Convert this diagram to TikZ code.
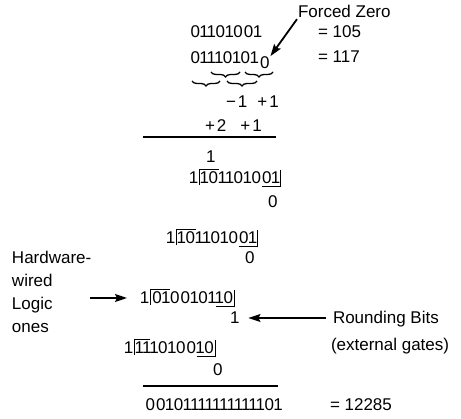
\documentclass[tikz,border=0pt]{standalone}
\usepackage{fontspec}
\setmainfont{Liberation Sans}
\usetikzlibrary{arrows.meta,decorations.pathreplacing}
\newlength\zw \setlength\zw{10.5pt}
\newlength\ow \setlength\ow{7.3pt}
\makeatletter
\def\bits#1{\bits@#1\relax}
\def\bits@#1{\ifx#1\relax\else\ifx#10\makebox[\zw]{0}\else\makebox[\ow]{1}\fi\expandafter\bits@\fi}
\makeatother
\newcommand\ovl[1]{\setbox0\hbox{#1}\rlap{\vrule height 14.5pt depth -13.5pt width \wd0}\box0}
\newcommand\unl[1]{\setbox0\hbox{#1}\rlap{\vrule height -2.5pt depth 3.5pt width \wd0}\box0}
\newcommand\prow[3]{\bits{1}\kern1.5pt\vrule height 15pt depth 1pt width 1pt\ovl{\kern1pt\bits{#1}}\bits{#2}\unl{\bits{#3}\kern.8pt}\vrule height 14pt depth 3.5pt width 1pt}
\begin{document}
\begin{tikzpicture}[x=1pt,y=-1pt,
  every node/.style={inner sep=0pt, outer sep=0pt, anchor=base west, font=\fontsize{17}{20}\selectfont},
  arr/.style={line width=1.4pt, -{Stealth[length=12pt,width=8pt,inset=2pt]}},
  brc/.style={line width=1.3pt, decorate, decoration={brace, mirror, amplitude=5pt}},
  rulel/.style={line width=1.8pt}]
\useasboundingbox (0,0) rectangle (461,419);
% top
\node (fz) at (298,18) {Forced Zero};
\node (m1) at (190,38) {\bits{01101001}};
\node (e1) at (318,38) {= 105};
\node (m2) at (190,64) {\bits{01110101}};
\node (z0) at ([xshift=2pt,yshift=-5pt]m2.base east) {0};
\node (e2) at (318,63) {= 117};
\draw[arr, line width=1.8pt] ([xshift=-1pt,yshift=-1pt]fz.south west) -- ([xshift=1pt,yshift=1pt]z0.north east);
% braces
\draw[brc] (211,72) -- (240,72);
\draw[brc] (245,72) -- (273,72);
\draw[brc] (192,81) -- (220,81);
\draw[brc] (227,81) -- (257,81);
\node (d1) at (226,108) {−\kern2pt1\hspace{10pt}+\kern2pt1};
\node (d2) at (205,132) {+\kern2pt2\hspace{14pt}+\kern2pt1};
\draw[rulel] (143,137) -- (276,137);
% partial products
\node (c1) at (206,163) {1};
\node (rA) at (190,184) {\prow{10}{11010}{01}};
\node (zA) at (268,208) {0};
\node (rB) at (167,244) {\prow{10}{11010}{01}};
\node (zB) at (245,264) {0};
\node (rC) at (141,304) {\prow{01}{00101}{10}};
\node (oC) at (230,324) {1};
\node (rD) at (125,354) {\prow{11}{10100}{10}};
\node (zD) at (213,376) {0};
\draw[rulel] (143,386) -- (278,386);
\node (fin) at (145,411) {\bits{00101111111111101}};
\node (e3) at (330,411) {= 12285};
% labels
\node (hw1) at (12,264) {Hardware-};
\node (hw2) at (12,287) {wired};
\node (hw3) at (12,310) {Logic};
\node (hw4) at (12,333) {ones};
\node (rb1) at (333,324) {Rounding Bits};
\node (rb2) at (331,351) {(external gates)};
\coordinate (la) at (90,298);
\draw[arr, shorten >=14pt] (la) -- (la -| rC.west);
\coordinate (ra) at (326,318);
\draw[arr, shorten >=9pt] (ra) -- (ra -| oC.east);
\end{tikzpicture}
\end{document}
